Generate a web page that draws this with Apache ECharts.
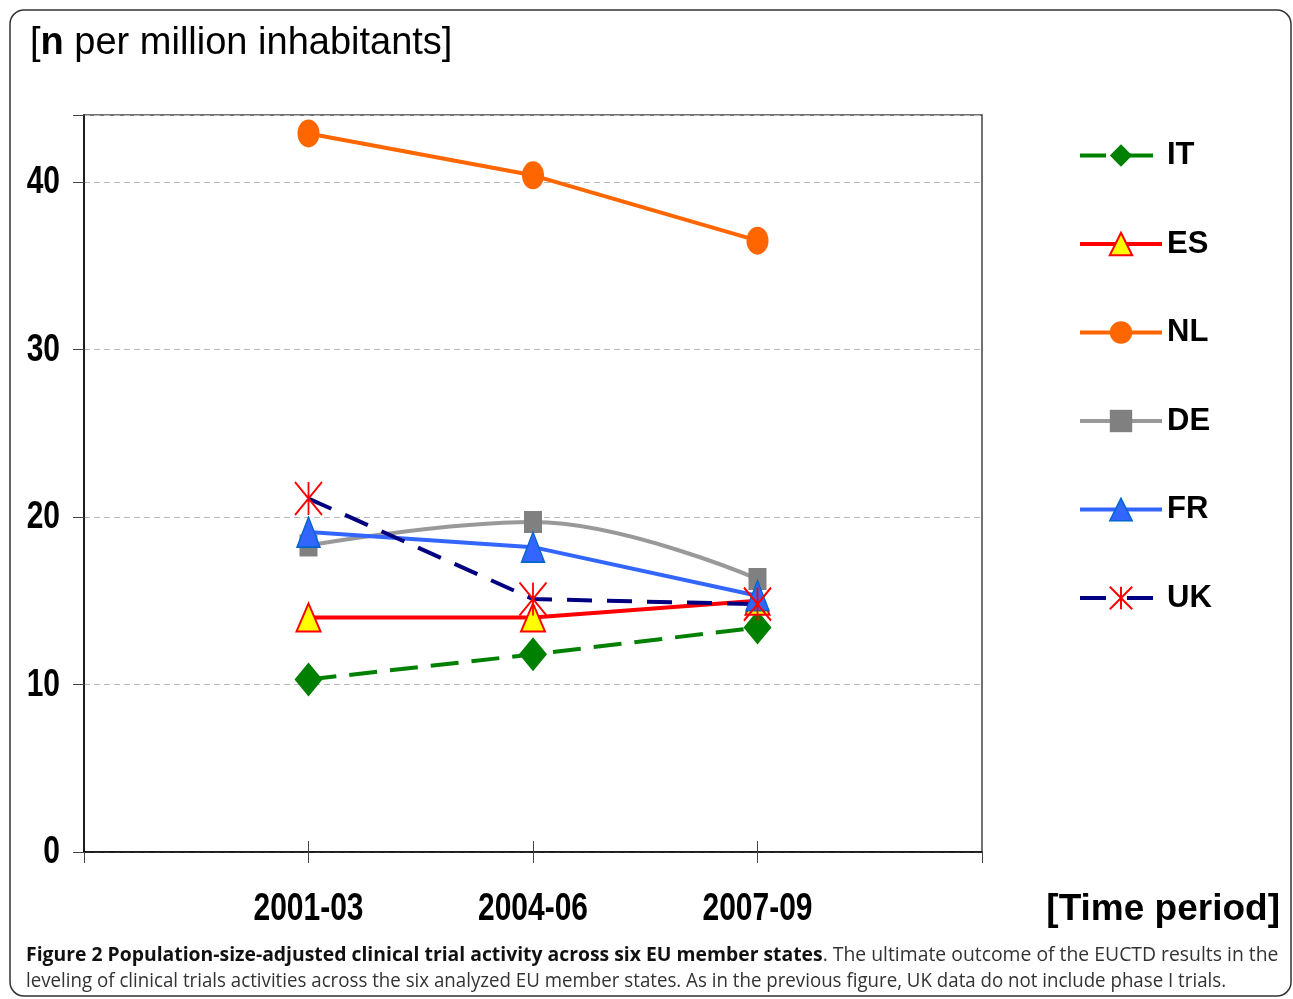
<!DOCTYPE html>
<html>
<head>
<meta charset="utf-8">
<script src="https://cdn.jsdelivr.net/npm/echarts@6/dist/echarts.min.js"></script>
<style>
html,body{margin:0;padding:0;background:#fff;}
#chart{width:1293px;height:999px;}
</style>
</head>
<body>
<div id="chart"></div>
<script>
// ---- data ----
const periods = ['2001-03', '2004-06', '2007-09'];
const countries = ['IT', 'ES', 'NL', 'DE', 'FR', 'UK'];
const IT = [10.3, 11.8, 13.4];
const ES = [14.0, 14.0, 15.0];
const NL = [42.9, 40.4, 36.5];
const DE = [18.3, 19.7, 16.3];
const FR = [19.1, 18.2, 15.3];
const UK = [21.1, 15.1, 14.8];
const yTicks = [0, 10, 20, 30, 40];
const yMin = 0, yMax = 44, yStep = 10;

const yTitle = '{b|n} per million inhabitants]';
const xTitle = '[Time period]';
const captionBold = 'Figure 2 Population-size-adjusted clinical trial activity across six EU member states';
const captionRest1 = '. The ultimate outcome of the EUCTD results in the';
const captionLine2 = 'leveling of clinical trials activities across the six analyzed EU member states. As in the previous figure, UK data do not include phase I trials.';

// category axis with empty padding slots at both ends
const cats = [''].concat(periods, ['']);
const pad = arr => ['-'].concat(arr, ['-']);

const LAB_FONT = "bold 30px 'Liberation Sans', Arial, sans-serif";
const LAB_SCALE_Y = 1.27;

const starPath = 'path://M0,0 L26,32 M26,0 L0,32 M13,0 L13,32';
const ellipsePath = 'path://M0,14 A11,14 0 1,1 22,14 A11,14 0 1,1 0,14 Z';

const chart = echarts.init(document.getElementById('chart'), null, {renderer: 'canvas'});

const styles = {
  IT: {symbol: 'diamond', symbolSize: [28, 34],
       lineStyle: {color: '#008000', width: 4, type: [28, 13]}, itemStyle: {color: '#008000'}},
  ES: {symbol: 'triangle', symbolSize: [24, 28],
       lineStyle: {color: '#FF0000', width: 4}, itemStyle: {color: '#FFFF00', borderColor: '#FF0000', borderWidth: 2}},
  NL: {symbol: ellipsePath, symbolSize: [22, 28],
       lineStyle: {color: '#FF6600', width: 4}, itemStyle: {color: '#FF6600'}},
  DE: {symbol: 'rect', symbolSize: [18, 22], smooth: 0.4,
       lineStyle: {color: '#999999', width: 4}, itemStyle: {color: '#808080'}},
  FR: {symbol: 'triangle', symbolSize: [23, 30],
       lineStyle: {color: '#3366FF', width: 4}, itemStyle: {color: '#3366FF', borderColor: '#0066CC', borderWidth: 1.5}},
  UK: {symbol: starPath, symbolSize: [27, 33],
       lineStyle: {color: '#000080', width: 4, type: [25, 15]}, itemStyle: {color: 'none', borderColor: '#FF0000', borderWidth: 2}}
};
const values = {IT, ES, NL, DE, FR, UK};

const series = countries.map(c => Object.assign({
  type: 'line', name: c, data: pad(values[c]), showSymbol: true, symbolKeepAspect: false,
  animation: false, emphasis: {disabled: true}}, styles[c]));

const legendData = countries.map(c => ({
  name: c,
  lineStyle: Object.assign({}, styles[c].lineStyle, {width: 4, type: [26, 21]}),
  itemStyle: styles[c].itemStyle
}));
// solid legend lines for solid series
legendData.forEach((d, i) => { if (!Array.isArray(styles[countries[i]].lineStyle.type)) d.lineStyle.type = 'solid'; });

const baseGraphics = [
  {type: 'rect', shape: {x: 10, y: 10, width: 1281, height: 986, r: 14},
   style: {fill: 'none', stroke: '#333', lineWidth: 1.5}, silent: true, z: -1},
  {type: 'text', left: 30, top: 25,
   style: {text: '[' + yTitle, font: "38px 'Liberation Sans', Arial, sans-serif", fill: '#000',
     rich: {b: {font: "bold 38px 'Liberation Sans', Arial, sans-serif", fill: '#000'}}}},
  {type: 'text', x: 1280, y: 910,
   style: {text: xTitle, font: "bold 37px 'Liberation Sans', Arial, sans-serif", fill: '#000',
     align: 'right', verticalAlign: 'middle'}},
  {type: 'text', x: 26, y: 955, scaleX: 0.968,
   style: {text: '{b|' + captionBold + '}{n|' + captionRest1 + '}', verticalAlign: 'middle',
     rich: {b: {font: "bold 20px 'Open Sans', sans-serif", fill: '#111'},
            n: {font: "20px 'Open Sans', sans-serif", fill: '#333'}}}},
  {type: 'text', x: 26, y: 981, scaleX: 0.935,
   style: {text: captionLine2, font: "20px 'Open Sans', sans-serif", fill: '#333', verticalAlign: 'middle'}}
];

chart.setOption({
  animation: false,
  backgroundColor: '#fff',
  grid: {left: 84, right: 311, top: 115, bottom: 147, show: true,
         borderColor: '#444', borderWidth: 1.5, backgroundColor: 'transparent'},
  legend: {
    orient: 'vertical', left: 1078, top: 140, padding: 0,
    itemWidth: 82, itemHeight: 28, itemGap: 57.5,
    data: legendData,
    textStyle: {fontFamily: "'Liberation Sans', Arial, sans-serif", fontWeight: 'bold', fontSize: 31, color: '#000'}
  },
  xAxis: [{
    type: 'category', data: cats, boundaryGap: false,
    axisLine: {show: true, lineStyle: {color: '#000', width: 1.5}},
    axisTick: {show: true, length: 11, inside: false, lineStyle: {color: '#444', width: 1}},
    axisLabel: {show: false},
    splitLine: {show: false}
  }, {
    type: 'category', data: cats, boundaryGap: false, position: 'bottom',
    axisLine: {show: false},
    axisTick: {show: true, interval: function (i) { return i > 0 && i < cats.length - 1; }, length: 11, inside: true, lineStyle: {color: '#444', width: 1}},
    axisLabel: {show: false}, splitLine: {show: false}
  }],
  yAxis: {
    type: 'value', min: yMin, max: yMax, interval: yStep,
    axisLine: {show: true, lineStyle: {color: '#000', width: 1.5}},
    axisTick: {show: true, length: 11, lineStyle: {color: '#444'}},
    axisLabel: {show: false},
    splitLine: {show: true, lineStyle: {color: '#b8b8b8', width: 1, type: [6, 4]}}
  },
  series: series,
  graphic: baseGraphics
});

// Tick labels placed through the library's own scales (condensed look via vertical scaling)
const labelGraphics = [];
const y0 = chart.convertToPixel({yAxisIndex: 0}, yMin);
periods.forEach(p => {
  const x = chart.convertToPixel({xAxisIndex: 0}, p);
  labelGraphics.push({type: 'text', x: x, y: y0 + 58, scaleY: LAB_SCALE_Y,
    style: {text: p, font: LAB_FONT, fill: '#000', align: 'center', verticalAlign: 'middle'}});
});
const xAxisLeft = chart.convertToPixel({xAxisIndex: 0}, 0);
yTicks.forEach(v => {
  const y = chart.convertToPixel({yAxisIndex: 0}, v);
  labelGraphics.push({type: 'text', x: xAxisLeft - 24, y: y + 1, scaleY: LAB_SCALE_Y,
    style: {text: String(v), font: LAB_FONT, fill: '#000', align: 'right', verticalAlign: 'middle'}});
});
chart.setOption({graphic: baseGraphics.concat(labelGraphics)}, {replaceMerge: ['graphic']});
</script>
</body>
</html>
